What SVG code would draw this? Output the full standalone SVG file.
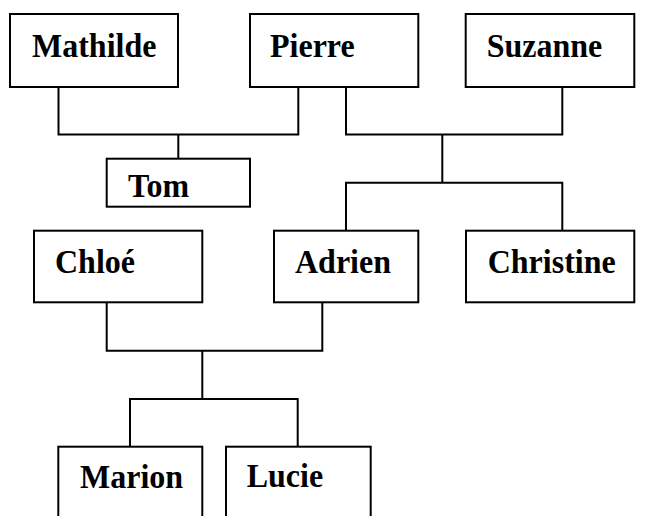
<svg xmlns="http://www.w3.org/2000/svg" width="650" height="516" viewBox="0 0 650 516">
<style>
.box{fill:#fff;stroke:#000;stroke-width:2}
.lbl{font-family:"Liberation Serif","Times New Roman",serif;font-weight:bold;font-size:32px;fill:#000}
.conn{fill:none;stroke:#000;stroke-width:2}
</style>
<rect width="650" height="516" fill="#fff"/>
<g id="connectors" class="conn">
<polyline points="58.5,87 58.5,134.5 298.3,134.5 298.3,87"/>
<line x1="178.3" y1="134.5" x2="178.3" y2="158.7"/>
<polyline points="346,87 346,134.5 562.3,134.5 562.3,87"/>
<line x1="442.3" y1="134.5" x2="442.3" y2="182.7"/>
<polyline points="346,230.7 346,182.7 562.3,182.7 562.3,230.7"/>
<polyline points="106.7,302.3 106.7,350.7 322.3,350.7 322.3,302.3"/>
<line x1="202.3" y1="350.7" x2="202.3" y2="399"/>
<polyline points="130,446.7 130,399 297.7,399 297.7,446.7"/>
</g>
<g id="mathilde"><rect class="box" x="10" y="14" width="168" height="73"/><text class="lbl" transform="translate(32,57) scale(1,1.08)">Mathilde</text></g>
<g id="pierre"><rect class="box" x="250" y="14" width="168.3" height="73"/><text class="lbl" transform="translate(270,57) scale(1,1.08)">Pierre</text></g>
<g id="suzanne"><rect class="box" x="465.7" y="14" width="168.6" height="73"/><text class="lbl" transform="translate(486.7,57) scale(1,1.08)">Suzanne</text></g>
<g id="tom"><rect class="box" x="106.7" y="158.7" width="143.3" height="48"/><text class="lbl" transform="translate(128,196.7) scale(1,1.08)">Tom</text></g>
<g id="chloe"><rect class="box" x="34" y="230.7" width="168.3" height="71.6"/><text class="lbl" transform="translate(55,272.7) scale(1,1.08)">Chloé</text></g>
<g id="adrien"><rect class="box" x="274" y="230.7" width="144.3" height="71.6"/><text class="lbl" transform="translate(295,272.7) scale(1,1.08)">Adrien</text></g>
<g id="christine"><rect class="box" x="466" y="230.7" width="168.3" height="71.6"/><text class="lbl" transform="translate(487.7,273) scale(1,1.08)">Christine</text></g>
<g id="marion"><rect class="box" x="58.3" y="446.7" width="144" height="80"/><text class="lbl" transform="translate(80,488.3) scale(1,1.08)">Marion</text></g>
<g id="lucie"><rect class="box" x="226" y="446.7" width="144.7" height="80"/><text class="lbl" transform="translate(246.7,486.7) scale(1,1.08)">Lucie</text></g>
</svg>
